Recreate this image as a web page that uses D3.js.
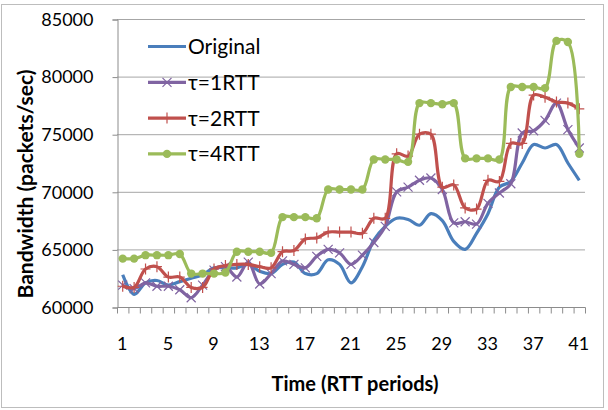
<!DOCTYPE html>
<html>
<head>
<meta charset="utf-8">
<script src="https://cdn.jsdelivr.net/npm/d3@7"></script>
<style>
  body { margin: 0; background: #fff; }
  svg { display: block; font-family: Lato, "Open Sans", sans-serif; }
</style>
</head>
<body>
<svg id="canvas" width="608" height="410"></svg>
<script>
// x categories 1..41, labels every 4th
let periods = d3.range(1, 42)
let tickLabels = [1, 5, 9, 13, 17, 21, 25, 29, 33, 37, 41]
let yTicks = [60000, 65000, 70000, 75000, 80000, 85000]

let seriesNames = ['Original', 'τ=1RTT', 'τ=2RTT', 'τ=4RTT']

let original = [62800, 61100, 62100, 62300, 61900, 62200, 62500, 62800, 63400, 63400,
  63400, 63700, 63100, 62900, 63700, 63900, 62900, 62900, 64100, 63700,
  62100, 63500, 65800, 67000, 67700, 67600, 67100, 68100, 67500, 65700,
  65000, 66400, 68100, 70400, 70900, 72500, 74100, 73800, 74100, 72500, 71000]

let rtt1 = [61900, 61600, 62100, 61800, 61800, 61500, 60800, 61900, 63200, 63500,
  62600, 63900, 62000, 62900, 64000, 63700, 63400, 64400, 65000, 64700,
  63700, 64500, 65600, 67000, 70000, 70400, 71000, 71200, 70200, 67300,
  67400, 67200, 69000, 69900, 70700, 75100, 75300, 76200, 77700, 75400, 73800]

let rtt2 = [61800, 61700, 63300, 63500, 62600, 62600, 61700, 61700, 63300, 63600,
  63700, 63700, 63500, 63400, 64800, 64900, 65900, 66000, 66500, 66500,
  66500, 66400, 67700, 67700, 73300, 73100, 75000, 75000, 70400, 70600,
  68600, 68500, 71000, 70900, 74200, 74200, 78400, 78200, 77800, 77700, 77200]

let rtt4 = [64200, 64200, 64500, 64500, 64500, 64600, 62900, 62900, 62900, 63000,
  64800, 64800, 64800, 64700, 67800, 67800, 67800, 67700, 70200, 70200,
  70200, 70200, 72800, 72800, 72800, 72600, 77700, 77700, 77600, 77700,
  72900, 72900, 72900, 72800, 79100, 79100, 79100, 79000, 83100, 83000, 73300]

let colors = ['#4a7ebb', '#8064a2', '#c0504d', '#9bbb59']
let markers = ['none', 'x', 'plus', 'circle']
let allValues = [original, rtt1, rtt2, rtt4]

let svg = d3.select('#canvas')

// chart border
svg.append('rect')
  .attr('x', 1.5).attr('y', 4.5)
  .attr('width', 602).attr('height', 403)
  .attr('fill', 'none').attr('stroke', '#bdbdbd')

let plotLeft = 117, plotRight = 585, plotTop = 19, plotBottom = 307

let x = d3.scaleBand().domain(periods).range([plotLeft, plotRight])
let y = d3.scaleLinear().domain([60000, 85000]).range([plotBottom, plotTop])
let xc = d => x(d) + x.bandwidth() / 2

// gridlines
svg.append('g')
  .selectAll('line')
  .data(yTicks.slice(1))
  .enter().append('line')
  .attr('x1', plotLeft).attr('x2', plotRight)
  .attr('y1', d => y(d) + 0.5).attr('y2', d => y(d) + 0.5)
  .attr('stroke', '#a6a6a6')

// y axis
let yAxis = svg.append('g')
  .attr('transform', `translate(${plotLeft + 0.5},0.5)`)
  .call(d3.axisLeft(y).tickValues(yTicks).tickSize(5).tickPadding(19).tickFormat(d3.format('d')))
yAxis.select('.domain').attr('stroke', '#8c8c8c')
yAxis.selectAll('.tick line').attr('stroke', '#8c8c8c')
yAxis.selectAll('text').attr('font-size', 18).attr('fill', '#000')
  .attr('font-family', 'Lato, sans-serif')

// x axis: ticks at category boundaries
let xAxis = svg.append('g')
  .attr('transform', `translate(0.5,${plotBottom + 0.5})`)
xAxis.append('line')
  .attr('x1', plotLeft).attr('x2', plotRight)
  .attr('stroke', '#8c8c8c')
xAxis.selectAll('.bt')
  .data(periods.concat([42]))
  .enter().append('line')
  .attr('x1', d => d <= 41 ? x(d) : plotRight)
  .attr('x2', d => d <= 41 ? x(d) : plotRight)
  .attr('y1', 0).attr('y2', 6)
  .attr('stroke', '#8c8c8c')
xAxis.selectAll('text')
  .data(tickLabels)
  .enter().append('text')
  .attr('x', d => xc(d) - 1)
  .attr('y', 42)
  .attr('text-anchor', 'middle')
  .attr('font-size', 18)
  .text(d => d)

// axis titles
svg.append('text')
  .attr('x', 355).attr('y', 391)
  .attr('text-anchor', 'middle')
  .attr('font-size', 20).attr('font-weight', 'bold')
  .text('Time (RTT periods)')

svg.append('text')
  .attr('transform', 'translate(33,184) rotate(-90)')
  .attr('text-anchor', 'middle')
  .attr('font-size', 21).attr('font-weight', 'bold')
  .text('Bandwidth (packets/sec)')

// lines (smoothed like the spreadsheet)
let line = d3.line()
  .x((d, i) => xc(periods[i]))
  .y(d => y(d))
  .curve(d3.curveCatmullRom.alpha(0.5))

let drawMarker = (g, type, color, cx, cy) => {
  if (type == 'x') {
    g.append('path')
      .attr('d', `M${cx - 4.5},${cy - 4.5}L${cx + 4.5},${cy + 4.5}M${cx - 4.5},${cy + 4.5}L${cx + 4.5},${cy - 4.5}`)
      .attr('stroke', color).attr('stroke-width', 1.2).attr('fill', 'none')
  } else if (type == 'plus') {
    g.append('path')
      .attr('d', `M${cx},${cy - 5.5}L${cx},${cy + 5.5}M${cx - 5},${cy}L${cx + 5},${cy}`)
      .attr('stroke', color).attr('stroke-width', 1.2).attr('fill', 'none')
  } else if (type == 'circle') {
    g.append('circle')
      .attr('cx', cx).attr('cy', cy).attr('r', 4.2)
      .attr('fill', color)
  }
}

allValues.forEach((vals, s) => {
  let g = svg.append('g')
  g.append('path')
    .datum(vals)
    .attr('d', line)
    .attr('fill', 'none')
    .attr('stroke', colors[s])
    .attr('stroke-width', 3.2)
    .attr('stroke-linejoin', 'round')
  vals.forEach((v, i) => drawMarker(g, markers[s], colors[s], xc(periods[i]), y(v)))
})

// legend (transparent, over gridlines)
let legend = svg.append('g')
seriesNames.forEach((name, s) => {
  let ly = 46.5 + s * 35.8
  legend.append('line')
    .attr('x1', 148).attr('x2', 186)
    .attr('y1', ly).attr('y2', ly)
    .attr('stroke', colors[s]).attr('stroke-width', 3.2)
  drawMarker(legend, markers[s], colors[s], 167, ly)
  legend.append('text')
    .attr('x', 188).attr('y', ly + 7.5)
    .attr('font-size', 21)
    .text(name)
})
</script>
</body>
</html>
